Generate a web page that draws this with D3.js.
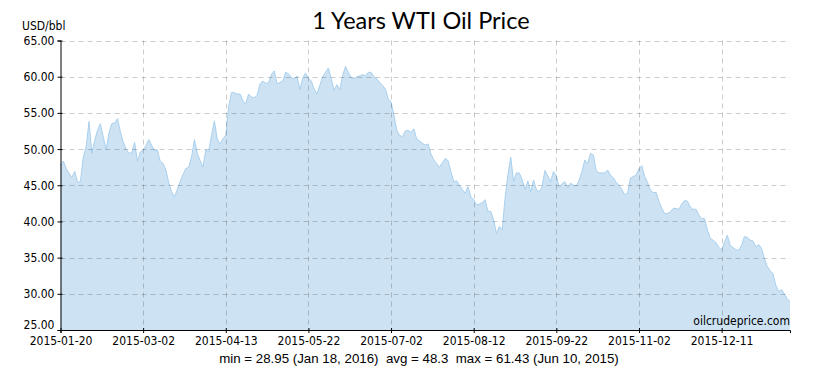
<!DOCTYPE html>
<html><head><meta charset="utf-8">
<script src="https://cdn.jsdelivr.net/npm/d3@7"></script>
<style>
html,body{margin:0;padding:0;background:#fff;}
svg{display:block;}
</style></head>
<body>
<svg id="chart" width="820" height="370"></svg>
<script>
// ---- data ----
const prices = [
47.8,48.35,47.3,46.65,46.1,46.9,45.4,45.5,48.9,50.3,
53.8,49.4,51.2,52.6,53.5,51.7,49.9,52.2,53.5,53.6,
54.2,52.4,51.0,50.0,49.4,49.5,50.9,48.3,49.6,49.8,
50.5,51.3,50.5,49.8,49.9,48.3,48.0,47.1,45.3,44.1,
43.4,44.4,45.5,46.5,47.3,47.5,48.9,51.3,49.4,48.4,
47.5,49.9,49.6,51.9,53.9,51.4,50.7,51.4,51.9,55.8,
57.8,57.8,57.6,57.6,56.7,56.2,57.6,57.2,57.1,57.4,
59.0,59.4,59.1,59.1,60.3,60.8,59.0,59.2,59.4,60.6,
60.4,59.9,59.7,60.1,58.2,59.8,60.5,59.8,59.4,58.3,
57.6,58.8,60.0,60.6,61.2,59.7,58.1,58.9,58.2,60.1,
61.43,60.6,59.9,59.7,60.0,60.1,60.3,60.1,60.6,60.6,
60.0,59.7,59.2,58.8,58.3,56.9,56.5,54.7,52.6,51.9,
51.7,52.5,52.6,52.3,52.8,51.4,51.1,50.8,50.55,50.7,
49.3,48.5,48.0,47.5,48.1,48.7,48.4,46.9,45.5,45.6,
45.0,44.4,43.9,44.8,43.4,43.0,42.3,42.4,42.6,43.0,
41.4,41.4,40.2,38.3,39.3,38.8,43.2,46.4,48.9,45.5,
46.7,46.7,45.8,44.4,45.6,44.1,45.7,44.4,44.1,44.8,
47.05,46.3,45.5,46.9,46.3,44.7,45.2,45.5,44.6,45.3,
45.0,44.9,45.7,46.9,48.5,48.0,49.4,49.2,47.0,46.7,
46.7,46.7,47.1,46.4,46.0,45.4,45.0,44.4,43.7,43.9,
46.0,46.2,46.4,47.3,47.7,46.2,45.4,44.3,44.0,44.0,
42.8,41.8,41.1,41.1,41.3,41.8,41.8,41.65,42.4,42.9,
42.8,42.0,41.65,41.7,40.9,40.4,40.4,38.8,37.7,37.4,
37.1,36.4,36.1,37.1,38.1,36.7,36.4,36.1,36.0,36.7,
37.9,37.8,37.4,37.3,36.5,36.8,36.3,34.9,33.8,33.2,
32.8,31.2,30.3,30.6,30.0,29.3,28.95
];
const xTickIndex = [0,29,58,87,116,145,174,203,232];
const xTickLabels = ["2015-01-20","2015-03-02","2015-04-13","2015-05-22","2015-07-02","2015-08-12","2015-09-22","2015-11-02","2015-12-11"];
const yTicks = [25,30,35,40,45,50,55,60,65];
const titleText = "1 Years WTI Oil Price";
const unitText = "USD/bbl";
const statsText = "min = 28.95 (Jan 18, 2016)  avg = 48.3  max = 61.43 (Jun 10, 2015)";
const sourceText = "oilcrudeprice.com";

// ---- layout ----
const L = 60.5, R = 790, T = 40.5, B = 330;
const svg = d3.select("#chart");
const x = d3.scaleLinear().domain([0, prices.length - 1]).range([L, R]);
const y = d3.scaleLinear().domain([25, 65]).range([B, T]);
const tickFont = "'Liberation Sans Narrow','DejaVu Sans Condensed',sans-serif";

// area
const area = d3.area().x((d,i)=>x(i)).y0(B).y1(d=>y(d));
const line = d3.line().x((d,i)=>x(i)).y(d=>y(d));
svg.append("path").datum(prices).attr("d", area).attr("fill", "#cde3f4");
svg.append("path").datum(prices).attr("d", line).attr("fill","none")
  .attr("stroke","#a9d0ee").attr("stroke-width",1);

// grid
const grid = svg.append("g").attr("stroke","rgba(0,0,0,0.2)").attr("stroke-dasharray","5,4").attr("stroke-width",1);
yTicks.filter(v=>v>25).forEach(v=>{
  grid.append("line").attr("x1",L).attr("x2",R).attr("y1",Math.round(y(v))+0.5).attr("y2",Math.round(y(v))+0.5);
});
xTickIndex.filter(i=>i>0).forEach(i=>{
  grid.append("line").attr("x1",Math.round(x(i))+0.5).attr("x2",Math.round(x(i))+0.5).attr("y1",T).attr("y2",B);
});

// y axis
const yAxis = d3.axisLeft(y).tickValues(yTicks).tickFormat(d3.format(".2f")).tickSize(3).tickPadding(3);
const gy = svg.append("g").attr("transform",`translate(${L},0)`).call(yAxis);
gy.select(".domain").attr("stroke","#000");
gy.selectAll(".tick line").attr("stroke","#000").attr("x2",-3).attr("x1",2);
gy.selectAll("text").attr("font-family",tickFont).attr("font-size",12).attr("fill","#000")
  .attr("dy", d => d === 25 ? "-0.1em" : "0.34em");

// x axis
const xAxis = d3.axisBottom(x).tickValues(xTickIndex).tickFormat((d,i)=>xTickLabels[i]).tickSize(3).tickPadding(3);
const gx = svg.append("g").attr("transform",`translate(0,${B})`).call(xAxis);
gx.select(".domain").attr("stroke","#000");
gx.selectAll(".tick line").attr("stroke","#000").attr("y1",-2).attr("y2",3);
gx.selectAll("text").attr("font-family",tickFont).attr("font-size",12).attr("fill","#000");

// texts
svg.append("text").attr("x",421).attr("y",29).attr("text-anchor","middle")
  .attr("font-family","Lato, 'Open Sans', sans-serif").attr("font-size",23.5).attr("fill","#000").text(titleText);
svg.append("text").attr("x",22).attr("y",30)
  .attr("font-family",tickFont).attr("font-size",12).attr("fill","#000").text(unitText);
svg.append("text").attr("x",419).attr("y",363).attr("text-anchor","middle")
  .attr("font-family","'Liberation Sans', Arial, sans-serif").attr("font-size",13.3).attr("fill","#000")
  .attr("xml:space","preserve").style("white-space","pre").text(statsText);
svg.append("text").attr("x",790).attr("y",325).attr("text-anchor","end")
  .attr("font-family",tickFont).attr("font-size",12).attr("fill","#000").text(sourceText);
</script>
</body></html>
